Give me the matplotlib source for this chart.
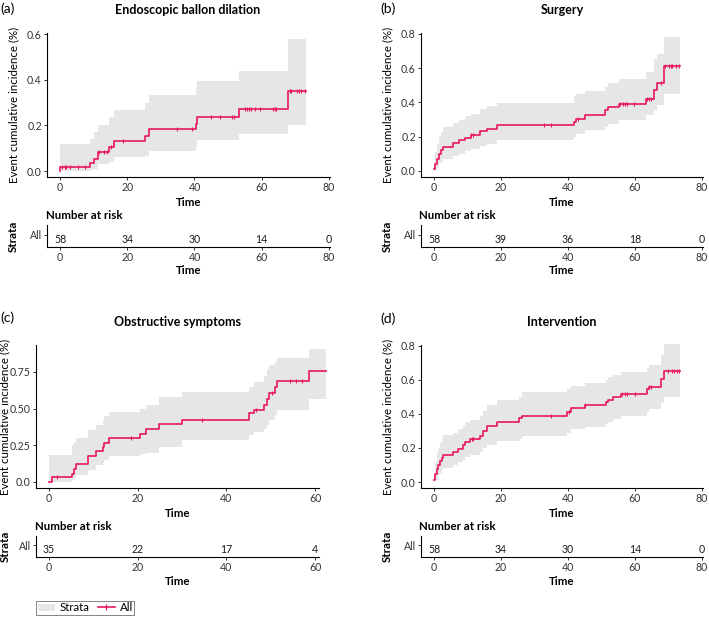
import numpy as np
import matplotlib.pyplot as plt
from matplotlib.patches import Patch
from matplotlib.lines import Line2D

plt.rcParams['font.family'] = ['Lato', 'DejaVu Sans']

RED = '#E8175D'
BAND = '#E6E6E6'
GREY = '#333333'

# (a) Endoscopic ballon dilation
a_time = [0, 0.1, 9.0, 10.1, 11.3, 14.6, 16.0, 25.4, 26.4, 40.3, 40.7, 53.1, 67.8]
a_est = [0, 0.017, 0.035, 0.052, 0.083, 0.104, 0.13, 0.152, 0.184, 0.206, 0.237, 0.272, 0.35]
a_low = [0, 0, 0.005, 0.01, 0.03, 0.04, 0.06, 0.066, 0.087, 0.11, 0.135, 0.161, 0.2]
a_upp = [0.12, 0.12, 0.14, 0.172, 0.204, 0.235, 0.267, 0.297, 0.333, 0.365, 0.394, 0.44, 0.58]
a_end = 73.2
a_cens = [0.6, 1.4, 1.9, 2.9, 5.5, 7.3, 11.6, 13.1, 14.0, 15.3, 18.7, 34.8, 39.3, 45.0, 47.5,
          51.2, 51.7, 54.9, 55.6, 56.2, 56.9, 57.9, 59.6, 63.3, 63.8, 64.3,
          68.3, 68.8, 70.5, 71.1, 71.8, 72.8]
a_risk = [58, 34, 30, 14, 0]

# (b) Surgery
b_time = [0, 0.3, 0.8, 1.5, 2.1, 2.8, 5.8, 7.5, 9.4, 11.0, 13.7, 15.9, 18.9, 41.9, 42.5,
          45.0, 51.0, 52.0, 55.3, 63.4, 65.7, 66.7, 68.6]
b_est = [0.014, 0.043, 0.072, 0.101, 0.12, 0.14, 0.165, 0.179, 0.194, 0.212, 0.231, 0.247,
         0.266, 0.285, 0.305, 0.328, 0.353, 0.373, 0.392, 0.421, 0.47, 0.515, 0.612]
b_low = [0, 0.005, 0.02, 0.04, 0.055, 0.07, 0.085, 0.1, 0.115, 0.13, 0.145, 0.16, 0.178,
         0.2, 0.217, 0.237, 0.256, 0.276, 0.30, 0.324, 0.353, 0.383, 0.447]
b_upp = [0.05, 0.11, 0.16, 0.2, 0.23, 0.255, 0.28, 0.3, 0.32, 0.335, 0.36, 0.38, 0.395,
         0.437, 0.45, 0.466, 0.489, 0.515, 0.538, 0.577, 0.654, 0.683, 0.78]
b_end = 73.4
b_cens = [11.1, 11.7, 32.9, 34.9, 43.0, 55.6, 56.3, 56.9, 57.6, 59.8, 63.7, 64.2, 64.9,
          67.7, 69.0, 70.1, 70.6, 71.1, 72.3, 73.2]
b_risk = [58, 39, 36, 18, 0]

# (c) Obstructive symptoms
c_time = [0, 0.75, 5.3, 5.7, 6.0, 8.7, 8.9, 10.6, 12.1, 12.3, 13.6, 20.6, 21.9, 24.9, 30.0,
          45.1, 46.2, 48.5, 49.1, 49.7, 50.9, 51.5, 58.7]
c_est = [0, 0.034, 0.057, 0.09, 0.125, 0.148, 0.177, 0.211, 0.239, 0.268, 0.302, 0.33,
         0.364, 0.398, 0.42, 0.47, 0.493, 0.527, 0.568, 0.609, 0.648, 0.686, 0.757]
c_low = [0, 0, 0.02, 0.03, 0.05, 0.065, 0.08, 0.114, 0.13, 0.148, 0.18, 0.19, 0.2, 0.24,
         0.284, 0.318, 0.34, 0.364, 0.386, 0.42, 0.455, 0.489, 0.568]
c_upp = [0.186, 0.186, 0.25, 0.27, 0.3, 0.33, 0.352, 0.386, 0.42, 0.45, 0.477, 0.5, 0.523,
         0.58, 0.614, 0.648, 0.68, 0.72, 0.77, 0.795, 0.82, 0.848, 0.905]
c_end = 62.5
c_cens = [1.7, 18.6, 34.5, 46.8, 50.4, 54.3, 55.7, 57.1]
c_risk = [35, 22, 17, 4]

# (d) Intervention
d_time = [0, 0.3, 0.8, 1.3, 1.8, 2.3, 2.8, 5.8, 7.3, 8.7, 9.4, 10.7, 13.7, 14.7, 15.7, 18.7,
          25.4, 26.4, 39.8, 40.8, 45.0, 51.2, 52.0, 53.3, 55.7, 63.6, 64.1, 67.8, 68.8]
d_est = [0.01, 0.049, 0.078, 0.098, 0.123, 0.142, 0.156, 0.176, 0.195, 0.215, 0.234, 0.25,
         0.269, 0.302, 0.332, 0.355, 0.375, 0.39, 0.41, 0.435, 0.453, 0.468, 0.48, 0.498,
         0.52, 0.546, 0.56, 0.605, 0.65]
d_low = [0, 0.01, 0.025, 0.04, 0.055, 0.07, 0.082, 0.1, 0.115, 0.13, 0.145, 0.16, 0.175,
         0.2, 0.22, 0.24, 0.255, 0.273, 0.29, 0.31, 0.325, 0.34, 0.355, 0.37, 0.39, 0.41,
         0.43, 0.465, 0.497]
d_upp = [0.04, 0.12, 0.17, 0.2, 0.23, 0.255, 0.275, 0.29, 0.31, 0.33, 0.35, 0.365, 0.385,
         0.42, 0.45, 0.48, 0.5, 0.527, 0.545, 0.565, 0.58, 0.6, 0.615, 0.63, 0.645, 0.67,
         0.69, 0.745, 0.81]
d_end = 73.4
d_cens = [11.2, 11.7, 34.8, 40.3, 45.0, 56.2, 56.9, 57.7, 60.0, 64.3, 64.9, 70.0, 71.0,
          71.7, 72.5, 73.2]
d_risk = [58, 34, 30, 14, 0]

W, H = 709, 617
fig = plt.figure(figsize=(W / 100, H / 100), dpi=100)

FS_TICK = 7.6
FS_LAB = 8.3


def box(l, r, t, b):
    return [l / W, 1 - b / H, (r - l) / W, (b - t) / H]


def ftext(x, y, s, **kw):
    fig.text(x / W, 1 - y / H, s, **kw)


def style(ax, l, r, t, b, lab_x, lab_y):
    for s in ['top', 'right']:
        ax.spines[s].set_visible(False)
    for s in ['left', 'bottom']:
        ax.spines[s].set_linewidth(0.8)
    ax.tick_params(length=2.5, width=0.7, color=GREY, labelcolor=GREY, labelsize=FS_TICK, pad=1.2)
    ax.set_xlabel('Time', fontsize=FS_LAB, fontweight='bold')
    ax.xaxis.set_label_coords(0.5, (b - lab_y) / (b - t))
    ax.yaxis.set_label_coords((lab_x - l) / (r - l), 0.5)


def panel(px, risk_t, time, est, low, upp, end, cens, risk, xmax, ylim, yticks, ylabs, tlabels):
    l, r, t, b = px
    ax = fig.add_axes(box(l, r, t, b))
    tt = np.append(time, end)
    ax.fill_between(tt, np.append(low, low[-1]), np.append(upp, upp[-1]), step='post',
                    color=BAND, lw=0, clip_on=False)
    ax.step(tt, np.append(est, est[-1]), where='post', color=RED, lw=1.2, clip_on=False)
    idx = np.searchsorted(time, cens, side='right') - 1
    ax.plot(cens, np.array(est)[idx], ls='none', marker='|', ms=3.5, mew=0.8, color=RED,
            clip_on=False)
    x0 = -(13 / ((r - l) - 13) * xmax)
    ax.set_xlim(x0, xmax)
    ax.set_xticks(np.arange(0, xmax, 20))
    ax.set_ylim(*ylim)
    ax.set_yticks(yticks)
    ax.set_yticklabels(ylabs)
    ax.set_ylabel('Event cumulative incidence (%)', fontsize=FS_LAB)
    style(ax, l, r, t, b, tlabels[0], tlabels[1])

    rt, rb = risk_t
    ax2 = fig.add_axes(box(l, r, rt, rb))
    ax2.set_xlim(ax.get_xlim())
    ax2.set_ylim(0, 1)
    ax2.set_xticks(np.arange(0, xmax, 20))
    ax2.set_yticks([0.55])
    ax2.set_yticklabels(['All'])
    for x, n in zip(np.arange(0, xmax, 20), risk):
        ax2.text(x, 0.36, str(n), ha='center', va='center', fontsize=FS_TICK, color='#1a1a1a')
    ax2.set_ylabel('Strata', fontsize=FS_LAB, fontweight='bold')
    style(ax2, l, r, rt, rb, tlabels[0], tlabels[2])
    return ax, ax2


panel((47, 330, 33, 177), (225, 247), a_time, a_est, a_low, a_upp, a_end, a_cens, a_risk,
      80.3, (-0.026, 0.605), [0, 0.2, 0.4, 0.6], ['0.0', '0.2', '0.4', '0.6'], (19, 197, 265))
panel((421, 703, 33, 177), (225, 247), b_time, b_est, b_low, b_upp, b_end, b_cens, b_risk,
      80.3, (-0.035, 0.805), [0, 0.2, 0.4, 0.6, 0.8], ['0.0', '0.2', '0.4', '0.6', '0.8'],
      (393, 197, 265))
panel((36, 319, 345, 488), (536, 557), c_time, c_est, c_low, c_upp, c_end, c_cens, c_risk,
      60.9, (-0.041, 0.934), [0, 0.25, 0.5, 0.75], ['0.0', '0.25', '0.50', '0.75'],
      (10.5, 508, 576))
panel((421, 703, 345, 488), (536, 557), d_time, d_est, d_low, d_upp, d_end, d_cens, d_risk,
      80.3, (-0.035, 0.805), [0, 0.2, 0.4, 0.6, 0.8], ['0.0', '0.2', '0.4', '0.6', '0.8'],
      (393, 508, 576))

# titles, tags, risk headers
ftext(188, 10, 'Endoscopic ballon dilation', ha='center', va='center', fontsize=9, fontweight='bold')
ftext(562, 10, 'Surgery', ha='center', va='center', fontsize=9, fontweight='bold')
ftext(177, 322, 'Obstructive symptoms', ha='center', va='center', fontsize=9, fontweight='bold')
ftext(562, 322, 'Intervention', ha='center', va='center', fontsize=9, fontweight='bold')
ftext(0, 9, '(a)', ha='left', va='center', fontsize=10)
ftext(380, 9, '(b)', ha='left', va='center', fontsize=10)
ftext(0, 318, '(c)', ha='left', va='center', fontsize=10)
ftext(380, 319, '(d)', ha='left', va='center', fontsize=10)
for x, y in [(46, 215.5), (419, 215.5), (35, 526.5), (419, 526.5)]:
    ftext(x, y, 'Number at risk', ha='left', va='center', fontsize=FS_LAB, fontweight='bold')

handles = [Patch(facecolor=BAND, edgecolor='none'),
           Line2D([], [], color=RED, lw=1.2, marker='|', ms=5, mew=0.8)]
leg = fig.legend(handles, ['Strata', 'All'], loc='lower left',
                 bbox_to_anchor=(36 / W, 1 - 615 / H), ncol=2, fontsize=FS_LAB, frameon=True,
                 fancybox=False, edgecolor='#666666', handlelength=1.5, handleheight=0.6,
                 borderpad=0.15, columnspacing=0.7, handletextpad=0.4, borderaxespad=0)
leg.get_frame().set_linewidth(0.7)

fig.savefig('out.png', dpi=100)
